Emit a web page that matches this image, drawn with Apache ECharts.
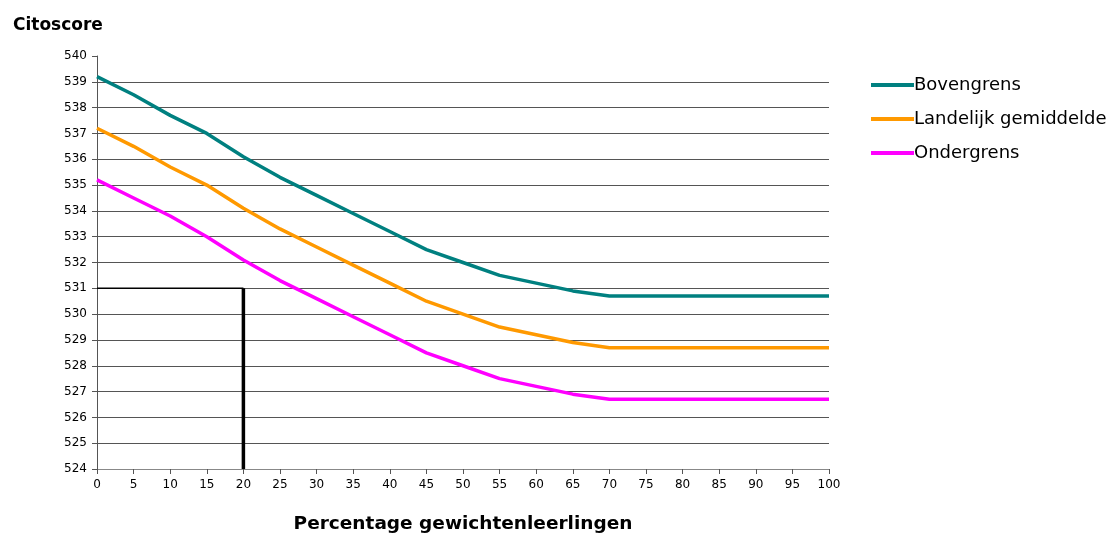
<!DOCTYPE html>
<html><head><meta charset="utf-8">
<script src="https://cdn.jsdelivr.net/npm/echarts@6/dist/echarts.min.js"></script>
<style>html,body{margin:0;padding:0;background:#fff}#c{width:1111px;height:534px}</style>
</head><body><div id="c"></div>
<script>
var xValues = [0,5,10,15,20,25,30,35,40,45,50,55,60,65,70,75,80,85,90,95,100];
var bovengrens = [539.2,538.5,537.7,537.0,536.1,535.3,534.6,533.9,533.2,532.5,532.0,531.5,531.2,530.9,530.7,530.7,530.7,530.7,530.7,530.7,530.7];
var landelijk  = [537.2,536.5,535.7,535.0,534.1,533.3,532.6,531.9,531.2,530.5,530.0,529.5,529.2,528.9,528.7,528.7,528.7,528.7,528.7,528.7,528.7];
var ondergrens = [535.2,534.5,533.8,533.0,532.1,531.3,530.6,529.9,529.2,528.5,528.0,527.5,527.2,526.9,526.7,526.7,526.7,526.7,526.7,526.7,526.7];
var refHorizontal = [[0,531],[20,531]];
var refVertical = [[20,531],[20,524]];
var seriesNames = ['Bovengrens','Landelijk gemiddelde','Ondergrens'];

function pairs(v){ return xValues.map(function(x,i){ return [x,v[i]]; }); }
var chart = echarts.init(document.getElementById('c'), null, {renderer:'canvas'});
var font = '"DejaVu Sans", Verdana, sans-serif';
chart.setOption({
  animation:false,
  backgroundColor:'#fff',
  title:{text:'Citoscore', left:8, top:12, textStyle:{fontFamily:font, fontSize:17, fontWeight:'bold', color:'#000'}},
  legend:{
    orient:'vertical', left:866, top:71, itemGap:16, itemWidth:43, itemHeight:4, icon:'rect',
    data:seriesNames,
    textStyle:{fontFamily:font, fontSize:18, color:'#000', padding:[0,0,0,-5]}
  },
  grid:{left:97, right:282, top:56, bottom:65, containLabel:false, outerBoundsMode:'none'},
  xAxis:{
    type:'value', min:0, max:100, interval:5,
    name:'Percentage gewichtenleerlingen', nameLocation:'middle', nameGap:46,
    nameTextStyle:{fontFamily:font, fontSize:18.5, fontWeight:'bold', color:'#000'},
    axisLine:{lineStyle:{color:'#888', width:1}},
    axisTick:{show:true, length:5, lineStyle:{color:'#555'}},
    axisLabel:{fontFamily:font, fontSize:12, color:'#000', margin:10},
    splitLine:{show:false}
  },
  yAxis:{
    type:'value', min:524, max:540, interval:1,
    axisLine:{show:true, lineStyle:{color:'#555', width:1}},
    axisTick:{show:true, length:5, lineStyle:{color:'#555'}},
    axisLabel:{fontFamily:font, fontSize:12, color:'#000', margin:10},
    splitLine:{show:true, showMaxLine:false, lineStyle:{color:'#555', width:1}}
  },
  series:[
    {name:'Bovengrens', type:'line', data:pairs(bovengrens), showSymbol:false, symbol:'none', lineStyle:{color:'#008080', width:3.5}, itemStyle:{color:'#008080'}},
    {name:'Landelijk gemiddelde', type:'line', data:pairs(landelijk), showSymbol:false, symbol:'none', lineStyle:{color:'#FF9900', width:3.5}, itemStyle:{color:'#FF9900'}},
    {name:'Ondergrens', type:'line', data:pairs(ondergrens), showSymbol:false, symbol:'none', lineStyle:{color:'#FF00FF', width:3.5}, itemStyle:{color:'#FF00FF'}},
    {name:'ref1', type:'line', data:refHorizontal, symbol:'none', lineStyle:{color:'#000', width:1.5}, z:3},
    {name:'ref2', type:'line', data:refVertical, symbol:'none', lineStyle:{color:'#000', width:3.5}, z:3}
  ]
});
</script></body></html>
